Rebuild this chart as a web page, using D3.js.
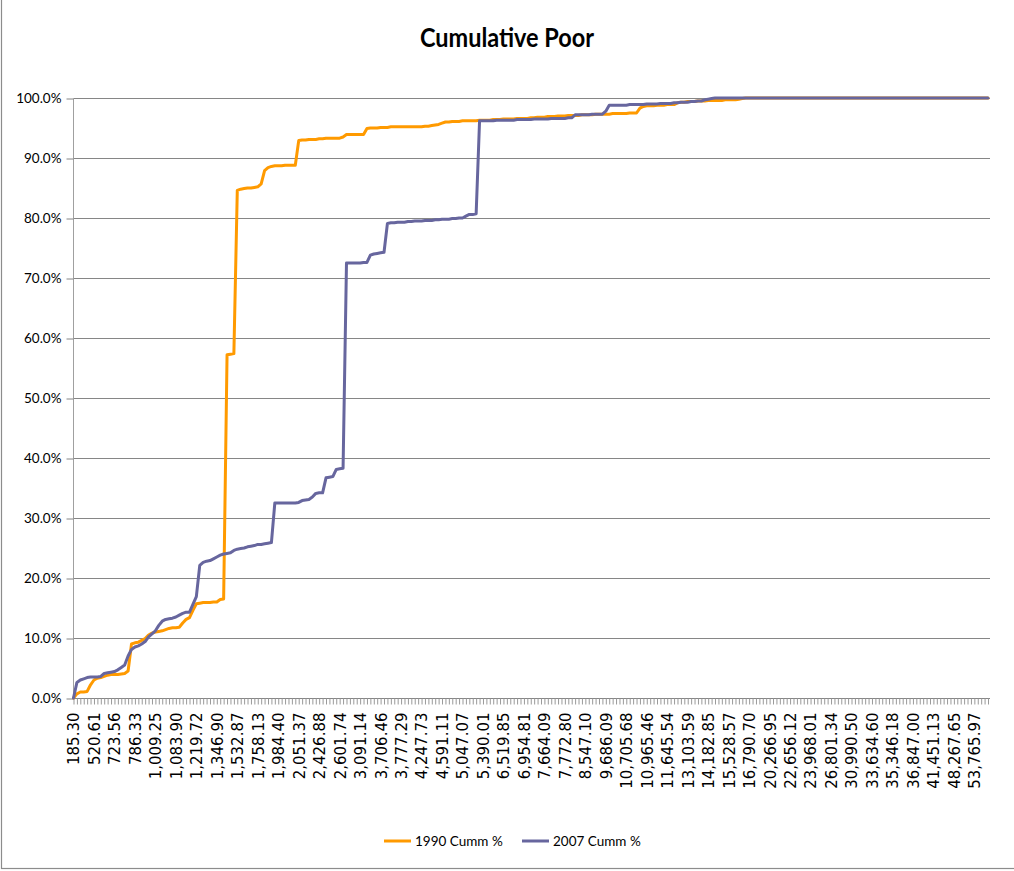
<!DOCTYPE html>
<html>
<head>
<meta charset="utf-8">
<script src="https://cdn.jsdelivr.net/npm/d3@7"></script>
<style>
  html, body { margin: 0; padding: 0; background: #fff; }
  svg { display: block; }
</style>
</head>
<body>
<svg id="chart" width="1014" height="871"></svg>
<script>
// ---------------- DATA ----------------
const chartTitle = "Cumulative Poor";
const seriesNames = ["1990 Cumm %", "2007 Cumm %"];

// Category tick labels (every 6th category is labelled)
const xTickLabels = [
  "185.30","520.61","723.56","786.33","1,009.25","1,083.90","1,219.72","1,346.90",
  "1,532.87","1,758.13","1,984.40","2,051.37","2,426.88","2,601.74","3,091.14","3,706.46",
  "3,777.29","4,247.73","4,591.11","5,047.07","5,390.01","6,519.85","6,954.81","7,664.09",
  "7,772.80","8,547.10","9,686.09","10,705.68","10,965.46","11,645.54","13,103.59","14,182.85",
  "15,528.57","16,790.70","20,266.95","22,656.12","23,968.01","26,801.34","30,990.50","33,634.60",
  "35,346.18","36,847.00","41,451.13","48,267.65","53,765.97"
];
const labelEvery = 6;

// 1990 cumulative % (269 categories)
const pct1990 = [
  0, 0.7, 1.0, 1.0, 1.1, 2.2, 3.0, 3.3, 3.4, 3.6,
  3.8, 3.9, 3.9, 3.9, 4.0, 4.1, 4.5, 9.0, 9.2, 9.3,
  9.6, 9.9, 10.5, 10.8, 11.0, 11.1, 11.2, 11.4, 11.6, 11.7,
  11.7, 11.8, 12.5, 13.1, 13.4, 14.6, 15.7, 15.8, 15.9, 15.9,
  15.9, 16.0, 16.0, 16.4, 16.5, 57.2, 57.3, 57.4, 84.6, 84.8,
  84.9, 85.0, 85.0, 85.1, 85.2, 85.7, 87.9, 88.4, 88.6, 88.7,
  88.7, 88.7, 88.8, 88.8, 88.8, 88.8, 92.9, 93.0, 93.0, 93.1,
  93.1, 93.1, 93.2, 93.2, 93.3, 93.3, 93.3, 93.3, 93.3, 93.5,
  93.9, 93.9, 93.9, 93.9, 93.9, 93.9, 94.9, 95.0, 95.0, 95.0,
  95.1, 95.1, 95.1, 95.2, 95.2, 95.2, 95.2, 95.2, 95.2, 95.2,
  95.2, 95.2, 95.2, 95.3, 95.3, 95.4, 95.5, 95.6, 95.8, 96.0,
  96.0, 96.1, 96.1, 96.1, 96.2, 96.2, 96.2, 96.2, 96.2, 96.3,
  96.3, 96.3, 96.3, 96.4, 96.4, 96.4, 96.5, 96.5, 96.5, 96.5,
  96.6, 96.6, 96.6, 96.6, 96.7, 96.7, 96.8, 96.8, 96.8, 96.9,
  96.9, 96.9, 97.0, 97.0, 97.0, 97.1, 97.1, 97.1, 97.1, 97.2,
  97.2, 97.2, 97.2, 97.3, 97.3, 97.3, 97.3, 97.3, 97.4, 97.4,
  97.4, 97.4, 97.4, 97.5, 97.5, 97.5, 98.3, 98.6, 98.7, 98.7,
  98.7, 98.8, 98.8, 98.8, 98.9, 98.9, 98.9, 99.2, 99.3, 99.3,
  99.4, 99.4, 99.4, 99.5, 99.5, 99.5, 99.6, 99.6, 99.6, 99.6,
  99.6, 99.7, 99.7, 99.7, 99.7, 99.8, 99.9, 100, 100, 100,
  100, 100, 100, 100, 100, 100, 100, 100, 100, 100,
  100, 100, 100, 100, 100, 100, 100, 100, 100, 100,
  100, 100, 100, 100, 100, 100, 100, 100, 100, 100,
  100, 100, 100, 100, 100, 100, 100, 100, 100, 100,
  100, 100, 100, 100, 100, 100, 100, 100, 100, 100,
  100, 100, 100, 100, 100, 100, 100, 100, 100, 100,
  100, 100, 100, 100, 100, 100, 100, 100, 100
];

// 2007 cumulative % (269 categories)
const pct2007 = [
  0, 2.6, 3.0, 3.2, 3.4, 3.5, 3.5, 3.5, 3.6, 4.1,
  4.2, 4.3, 4.4, 4.7, 5.1, 5.5, 7.0, 8.1, 8.5, 8.7,
  9.0, 9.4, 10.2, 10.7, 11.2, 12.1, 12.8, 13.1, 13.2, 13.3,
  13.5, 13.8, 14.1, 14.3, 14.3, 15.6, 16.9, 22.1, 22.6, 22.8,
  22.9, 23.2, 23.5, 23.8, 24.0, 24.1, 24.2, 24.6, 24.8, 24.9,
  25.0, 25.2, 25.3, 25.4, 25.6, 25.6, 25.7, 25.8, 25.9, 32.5,
  32.5, 32.5, 32.5, 32.5, 32.5, 32.5, 32.6, 32.9, 33.0, 33.1,
  33.5, 34.1, 34.2, 34.2, 36.7, 36.8, 36.9, 38.1, 38.2, 38.3,
  72.5, 72.5, 72.5, 72.5, 72.5, 72.6, 72.6, 73.8, 74.0, 74.1,
  74.2, 74.3, 79.1, 79.2, 79.2, 79.3, 79.3, 79.3, 79.4, 79.4,
  79.5, 79.5, 79.5, 79.6, 79.6, 79.6, 79.7, 79.7, 79.8, 79.8,
  79.8, 79.9, 79.9, 80.0, 80.0, 80.3, 80.6, 80.6, 80.7, 96.2,
  96.2, 96.2, 96.2, 96.2, 96.3, 96.3, 96.3, 96.3, 96.3, 96.3,
  96.4, 96.4, 96.4, 96.4, 96.4, 96.5, 96.5, 96.5, 96.5, 96.5,
  96.6, 96.6, 96.6, 96.6, 96.6, 96.7, 96.7, 97.2, 97.2, 97.2,
  97.2, 97.2, 97.3, 97.3, 97.3, 97.3, 97.8, 98.8, 98.8, 98.8,
  98.8, 98.8, 98.8, 98.9, 98.9, 98.9, 98.9, 98.9, 99.0, 99.0,
  99.0, 99.0, 99.1, 99.1, 99.1, 99.1, 99.2, 99.2, 99.3, 99.3,
  99.3, 99.4, 99.4, 99.5, 99.5, 99.7, 99.8, 99.9, 100, 100,
  100, 100, 100, 100, 100, 100, 100, 100, 100, 100,
  100, 100, 100, 100, 100, 100, 100, 100, 100, 100,
  100, 100, 100, 100, 100, 100, 100, 100, 100, 100,
  100, 100, 100, 100, 100, 100, 100, 100, 100, 100,
  100, 100, 100, 100, 100, 100, 100, 100, 100, 100,
  100, 100, 100, 100, 100, 100, 100, 100, 100, 100,
  100, 100, 100, 100, 100, 100, 100, 100, 100, 100,
  100, 100, 100, 100, 100, 100, 100, 100, 100
];

const yTickValues = [0, 10, 20, 30, 40, 50, 60, 70, 80, 90, 100];

// ---------------- LAYOUT / STYLE ----------------
const W = 1014, H = 871;
const plot = { left: 73.5, right: 988, top: 98, bottom: 698 };
const colors = ["#FF9A00", "#67669E"];
const gridColor = "#868686";

const svg = d3.select("#chart");

// chart frame (partially visible, like the original screenshot)
svg.append("rect")
  .attr("x", 1.5).attr("y", -10)
  .attr("width", W + 20).attr("height", H + 10 - 2.5)
  .attr("fill", "none").attr("stroke", "#8c8c8c").attr("stroke-width", 1.2);

const nCat = pct1990.length;
const x = d3.scalePoint().domain(d3.range(nCat)).range([plot.left, plot.right]);
const y = d3.scaleLinear().domain([0, 100]).range([plot.bottom, plot.top]);

// gridlines
svg.append("g").selectAll("line").data(yTickValues.filter(v => v > 0)).join("line")
  .attr("x1", plot.left).attr("x2", 990)
  .attr("y1", d => Math.round(y(d)) + 0.5).attr("y2", d => Math.round(y(d)) + 0.5)
  .attr("stroke", gridColor).attr("stroke-width", 1);

// y axis
const yAxis = d3.axisLeft(y).tickValues(yTickValues).tickSize(7).tickPadding(5)
  .tickFormat(d => d.toFixed(1) + "%");
const gy = svg.append("g").attr("transform", `translate(${plot.left},0.5)`).call(yAxis);
gy.select(".domain").attr("stroke", "#a0a0a0").attr("d", `M0,${plot.top}V${plot.bottom}`);
gy.selectAll(".tick line").attr("stroke", gridColor);
gy.selectAll(".tick text").attr("fill", "#000")
  .style("font-family", "Lato, 'Liberation Sans', sans-serif").style("font-size", "13.5px");

// x axis
const xAxis = d3.axisBottom(x).tickSize(6).tickPadding(0)
  .tickFormat(i => (i % labelEvery === 0 && xTickLabels[i / labelEvery] !== undefined) ? xTickLabels[i / labelEvery] : "");
const gx = svg.append("g").attr("transform", `translate(0,${plot.bottom + 0.5})`).call(xAxis);
gx.select(".domain").attr("stroke", gridColor).attr("d", `M${plot.left},0H${990}`);
gx.selectAll(".tick line").attr("stroke", "#9a9a9a");
gx.selectAll(".tick text")
  .attr("fill", "#000")
  .style("font-family", "'DejaVu Sans', Verdana, sans-serif").style("font-size", "15px")
  .attr("text-anchor", "end")
  .attr("transform", "rotate(-90)")
  .attr("x", -14).attr("y", 0).attr("dy", "0.36em");

// lines
const line = d3.line().x((d, i) => x(i)).y(d => y(d));
[pct1990, pct2007].forEach((s, k) => {
  svg.append("path").datum(s)
    .attr("d", line)
    .attr("fill", "none")
    .attr("stroke", colors[k])
    .attr("stroke-width", 3)
    .attr("stroke-linejoin", "round")
    .attr("stroke-linecap", "round");
});

// title
const t = svg.append("text")
  .attr("x", 507).attr("y", 47)
  .attr("text-anchor", "middle")
  .style("font-family", "Lato, 'Liberation Sans', sans-serif")
  .style("font-weight", "bold").style("font-size", "26px")
  .attr("fill", "#000")
  .text(chartTitle);
t.attr("textLength", 174).attr("lengthAdjust", "spacingAndGlyphs");

// legend
const legendItems = [{ x: 384, name: seriesNames[0], c: colors[0] }, { x: 522, name: seriesNames[1], c: colors[1] }];
const lg = svg.append("g");
legendItems.forEach(it => {
  lg.append("line").attr("x1", it.x).attr("x2", it.x + 27).attr("y1", 841).attr("y2", 841)
    .attr("stroke", it.c).attr("stroke-width", 3);
  lg.append("text").attr("x", it.x + 31).attr("y", 846)
    .style("font-family", "Lato, 'Liberation Sans', sans-serif").style("font-size", "13.5px")
    .attr("fill", "#000").text(it.name);
});
</script>
</body>
</html>
